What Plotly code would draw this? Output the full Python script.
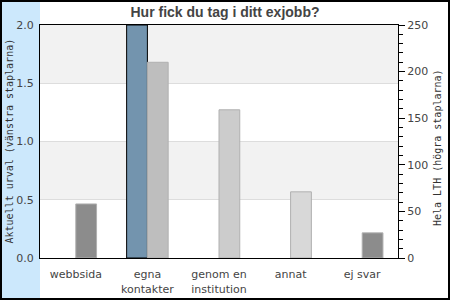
import plotly.graph_objects as go

categories = ["webbsida", "egna<br>kontakter", "genom en<br>institution", "annat", "ej svar"]
current_values = [None, 2.0, None, None, None]
lth_values = [58, 210, 159, 71, 27]
lth_colors = ["#8c8c8c", "#bebebe", "#cccccc", "#d8d8d8", "#8c8c8c"]

W, H = 450, 300
L, R, T, B = 40, 52, 25, 42
pw, ph = W - L - R, H - T - B

def px(x):
    return (x - L) / pw

def py(y):
    return (H - B - y) / ph

fig = go.Figure()
fig.add_trace(go.Bar(
    x=categories, y=current_values, yaxis="y",
    width=0.29, offset=-0.29,
    marker=dict(color="#7394ae", line=dict(color="#000000", width=1)),
    showlegend=False,
))
fig.add_trace(go.Bar(
    x=categories, y=lth_values, yaxis="y2",
    width=0.29, offset=0,
    marker=dict(color=lth_colors, line=dict(color="#b0b0b0", width=1)),
    showlegend=False,
))

shapes = [
    dict(type="rect", xref="paper", yref="paper", x0=px(2), x1=px(40), y0=py(2), y1=py(298),
         fillcolor="#cce8fc", line=dict(width=0), layer="below"),
    dict(type="rect", xref="paper", yref="y", x0=0, x1=1, y0=0.5, y1=1.0,
         fillcolor="#f2f2f2", line=dict(width=0), layer="below"),
    dict(type="rect", xref="paper", yref="y", x0=0, x1=1, y0=1.5, y1=2.0,
         fillcolor="#f2f2f2", line=dict(width=0), layer="below"),
    dict(type="rect", xref="paper", yref="paper", x0=px(1), x1=px(449), y0=py(1), y1=py(299),
         fillcolor="rgba(0,0,0,0)", line=dict(color="#000000", width=2), layer="above"),
]

tickfont = dict(family="DejaVu Sans", size=11, color="#444444")
titlefont = dict(family="DejaVu Sans Mono", size=10, color="#333333")

fig.update_layout(
    width=W, height=H,
    margin=dict(l=L, r=R, t=T, b=B),
    paper_bgcolor="#ffffff", plot_bgcolor="rgba(0,0,0,0)",
    title=dict(text="<b>Hur fick du tag i ditt exjobb?</b>", x=0.5, xanchor="center",
               y=1 - 12 / H, yanchor="middle",
               font=dict(family="Liberation Sans", size=14, color="#444444")),
    bargap=0.4,
    xaxis=dict(showline=True, linecolor="#000000", linewidth=1, mirror=True,
               ticks="", tickfont=tickfont, showgrid=False, ticklabelstandoff=6,
               automargin=False),
    yaxis=dict(range=[0, 2.0], dtick=0.5, tickformat=".1f", showgrid=True,
               gridcolor="#dddddd", gridwidth=1, zeroline=False,
               showline=True, linecolor="#000000", linewidth=1, ticks="",
               tickfont=tickfont, ticklabelstandoff=3, automargin=False),
    yaxis2=dict(range=[0, 250], dtick=50, overlaying="y", side="right",
                showgrid=False, zeroline=False, showline=True, linecolor="#000000",
                linewidth=1, ticks="outside", ticklen=6, tickcolor="#000000",
                minor=dict(dtick=10, ticks="outside", ticklen=4, tickcolor="#000000"),
                tickfont=tickfont, automargin=False),
    shapes=shapes,
    annotations=[
        dict(text="Aktuellt urval (vänstra staplarna)", xref="paper", yref="paper",
             x=px(9), y=0.5, textangle=-90, showarrow=False,
             xanchor="center", yanchor="middle", font=titlefont),
        dict(text="Hela LTH (högra staplarna)", xref="paper", yref="paper",
             x=px(437), y=py(148), textangle=-90, showarrow=False,
             xanchor="center", yanchor="middle", font=titlefont),
    ],
)

fig.write_html("out.html")
